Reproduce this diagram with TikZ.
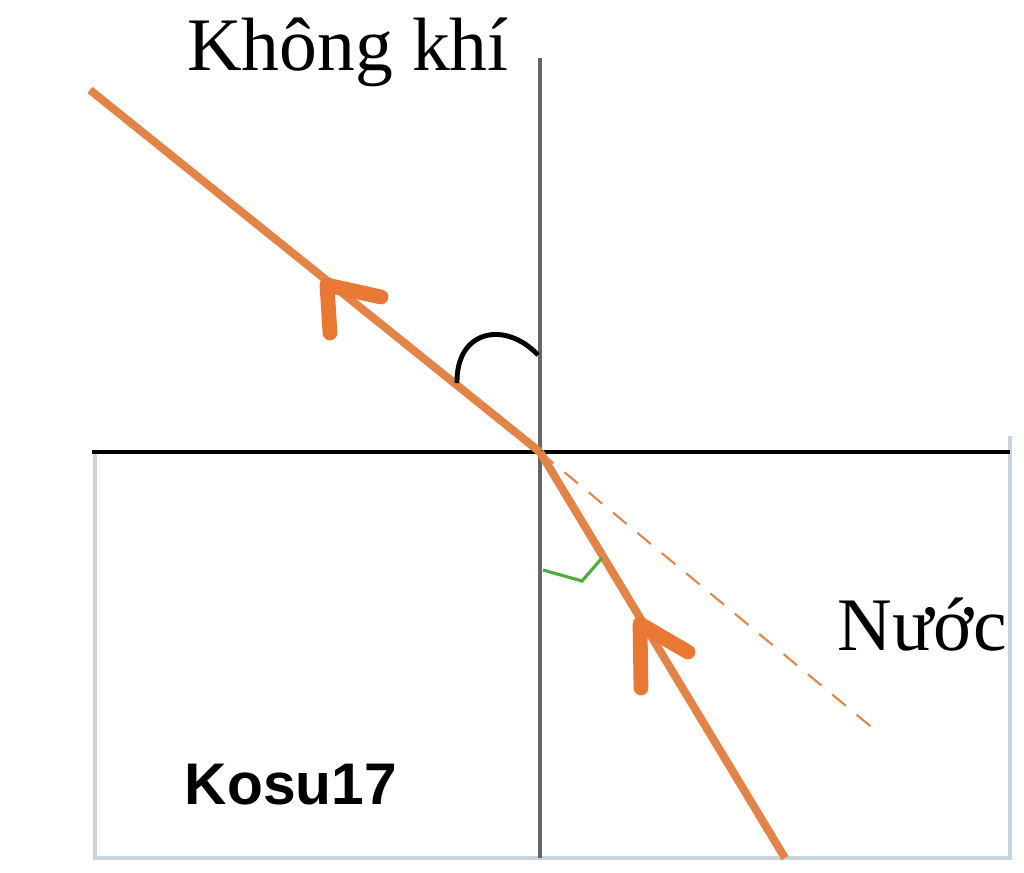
\documentclass[tikz,border=0pt]{standalone}
\usepackage{fontspec}
\setmainfont{Liberation Serif}
\newfontfamily\kosufont{Liberation Sans}
\usetikzlibrary{calc}
\definecolor{raycol}{RGB}{226,132,72}
\definecolor{tipcol}{RGB}{232,120,52}
\definecolor{boxcol}{RGB}{200,212,222}
\definecolor{markcol}{RGB}{80,170,60}
\tikzset{
  ray/.style={raycol, line width=2.3pt},
  chevron/.style={tipcol, line width=4.2pt, line cap=round, line join=round},
  boxline/.style={boxcol, line width=1.4pt},
}
\begin{document}
\begin{tikzpicture}[x=0.01cm, y=-0.01cm]
  \useasboundingbox (0,0) rectangle (1024,872);
  \coordinate (O) at (540,452);
  % water box
  \draw[boxline](95,452)--(95,858)--(1010,858)--(1010,436);
  % normal and surface
  \draw[gray!80!black, line width=1.1pt](540,58)--(540,858);
  \draw[black, line width=1.4pt](92,452)--(1010,452);
  % rays
  \draw[raycol, line width=0.6pt, dash pattern=on 5pt off 4pt](O)--(875,730);
  \draw[ray](90,90)--(O);
  \draw[ray](O)--(785,858);
  % arrows
  \draw[chevron](330,333)--(327,285)--(381,297);
  \draw[chevron](641,688)--(640,624)--(688,652);
  % angle marks
  \draw[black, line width=1.4pt](457,383) .. controls (456,330) and (505,320) .. (538,355);
  \draw[markcol, line width=0.9pt](543,570)--(582,581)--(602,558);
  % labels
  \node[font=\fontsize{21.5}{24}\selectfont] (air) at (348,52) {Không khí};
  \node[font=\fontsize{21.5}{24}\selectfont] (water) at (922,625) {Nước};
  \node[font=\kosufont\bfseries\fontsize{16.7}{19}\selectfont] (kosu) at (291,785) {Kosu17};
\end{tikzpicture}
\end{document}
